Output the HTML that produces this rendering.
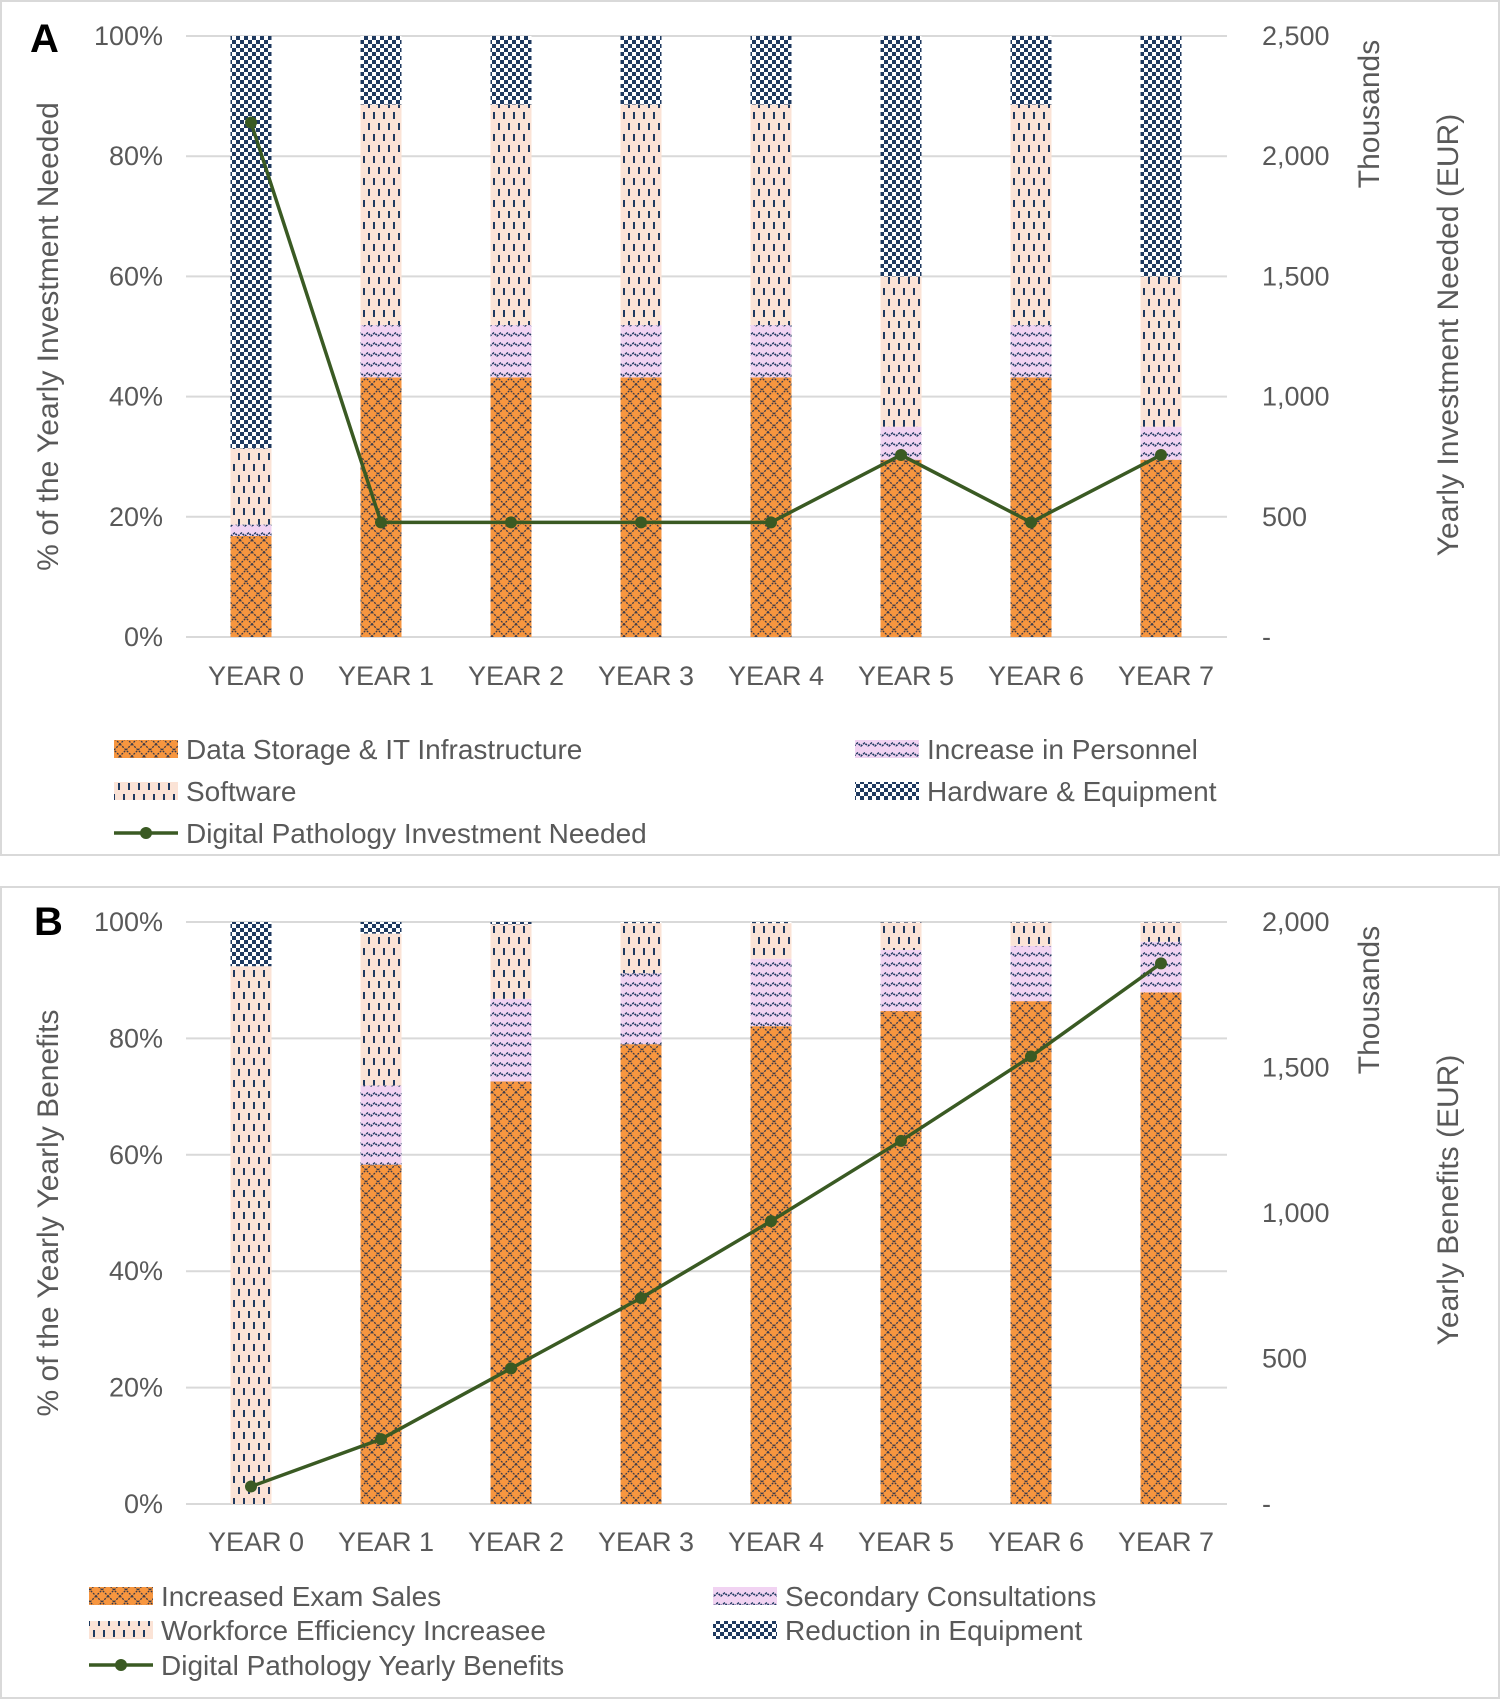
<!DOCTYPE html>
<html><head><meta charset="utf-8">
<style>
html,body{margin:0;padding:0;background:#fff;}
svg{display:block;font-family:"Liberation Sans",Arial,sans-serif;}
text{fill:#595959;}
</style></head>
<body>
<svg id="s" width="1500" height="1700" viewBox="0 0 1500 1700" xmlns="http://www.w3.org/2000/svg">
<defs>
<pattern id="pCross" width="12" height="12" patternUnits="userSpaceOnUse">
<rect width="12" height="12" fill="#f7963f"/>
<path d="M0,0L12,12M12,0L0,12" stroke="#3a3a4a" stroke-width="1.3" stroke-dasharray="2,1.2"/>
</pattern>
<pattern id="pSoft" width="10" height="22" patternUnits="userSpaceOnUse">
<rect width="10" height="22" fill="#fbe3d6"/>
<rect x="3" y="2" width="2" height="7" fill="#1f3a60"/>
<rect x="8" y="13" width="2" height="7" fill="#1f3a60"/>
</pattern>
<pattern id="pWave" width="14" height="10" patternUnits="userSpaceOnUse">
<rect width="14" height="10" fill="#f1d3f2"/>
<path d="M0,6 L3.5,3 L7,6 L10.5,3 L14,6" fill="none" stroke="#1f3a60" stroke-width="1.6" stroke-dasharray="2,1"/>
</pattern>
<pattern id="pCheck" width="8" height="8" patternUnits="userSpaceOnUse">
<rect width="8" height="8" fill="#fff"/>
<rect width="4" height="4" fill="#1f3a60"/>
<rect x="4" y="4" width="4" height="4" fill="#1f3a60"/>
</pattern>
</defs>
<rect x="1" y="1" width="1498" height="854" fill="none" stroke="#d9d9d9" stroke-width="2"/>
<rect x="1" y="887" width="1498" height="811" fill="none" stroke="#d9d9d9" stroke-width="2"/>
<text x="30" y="52" font-size="40" font-weight="bold" style="fill:#000">A</text>
<text x="34" y="935" font-size="40" font-weight="bold" style="fill:#000">B</text>
<g id="gA"></g><g id="gB"></g>
</svg>
<script>
const years = ["YEAR 0","YEAR 1","YEAR 2","YEAR 3","YEAR 4","YEAR 5","YEAR 6","YEAR 7"];
// Panel A stacked percentages
const aData = [16.8,43.2,43.2,43.2,43.2,29.5,43.2,29.5];
const aPersonnel = [1.9,8.7,8.7,8.7,8.7,5.5,8.7,5.5];
const aSoftware = [12.7,36.7,36.7,36.7,36.7,25,36.7,25];
const aHardware = [68.6,11.4,11.4,11.4,11.4,40,11.4,40];
const aLine = [2140,477,477,477,477,757,477,757];
const aRightTicks = ["-","500","1,000","1,500","2,000","2,500"];
// Panel B stacked percentages
const bExam = [0,58.3,72.6,79,82.1,84.7,86.4,87.9];
const bSecondary = [0,13.6,14.2,12.2,11.6,10.5,9.5,8.7];
const bWorkforce = [92.4,26.1,12.8,8.6,6.1,4.7,4.0,3.3];
const bReduction = [7.6,2.0,0.4,0.2,0.2,0.1,0.1,0.1];
const bLine = [60,223,466,708,972,1248,1538,1858];
const bRightTicks = ["-","500","1,000","1,500","2,000"];
const pctTicks = ["0%","20%","40%","60%","80%","100%"];

const NS="http://www.w3.org/2000/svg";
function mk(parent,tag,attrs,txt){const e=document.createElementNS(NS,tag);for(const k in attrs)e.setAttribute(k,attrs[k]);if(txt!==undefined)e.textContent=txt;parent.appendChild(e);return e;}

function draw(g,cfg){
  const L=186,R=1227,T=cfg.top,B=cfg.bottom,step=130,x0=251,bw=41;
  const yP=v=>B-(v/100)*(B-T);
  const yR=v=>B-(v/cfg.rmax)*(B-T);
  const xC=i=>x0+i*step;
  pctTicks.forEach((t,i)=>{
    const y=B-i*(B-T)/(pctTicks.length-1);
    const gl=mk(g,'line',{x1:L,x2:R,y1:y,y2:y,stroke:'#d9d9d9','stroke-width':2});
    
    
    const tl=mk(g,'text',{x:163,y:y+9,'font-size':27,'text-anchor':'end'},t);
    
    
  });
  cfg.rticks.forEach((t,i)=>{
    const y=B-i*(B-T)/(cfg.rticks.length-1);
    const tl=mk(g,'text',{x:1262,y:y+9,'font-size':27},t);
    
    
  });
  years.forEach((yl,i)=>{
    const tl=mk(g,'text',{x:xC(i)+5,y:cfg.xlab,'font-size':27,'text-anchor':'middle'},yl);
    
    
    let acc=0;
    cfg.series.forEach(s=>{
      const v=s.vals[i];
      if(v>0){
        const r=mk(g,'rect',{x:xC(i)-bw/2,y:yP(acc+v),width:bw,height:yP(acc)-yP(acc+v),fill:'url(#'+s.pat+')'});
        
        
      }
      acc+=v;
    });
  });
  const pts=cfg.line.map((v,i)=>xC(i)+','+yR(v)).join(' ');
  const pl=mk(g,'polyline',{points:pts,fill:'none',stroke:'#3a5a23','stroke-width':3.5});
  
  
  cfg.line.forEach((v,i)=>{
    const c=mk(g,'circle',{cx:xC(i),cy:yR(v),r:6,fill:'#3a5a23'});
    
    
  });
  const mid=(T+B)/2;
  const lt=mk(g,'text',{x:0,y:0,'font-size':30,'text-anchor':'middle',transform:`translate(58,${mid}) rotate(-90)`},cfg.ltitle);
  
  
  const th=mk(g,'text',{x:0,y:0,'font-size':30,'text-anchor':'middle',transform:`translate(1379,${T+(cfg.thY)}) rotate(-90)`},'Thousands');
  
  
  const rt=mk(g,'text',{x:0,y:0,'font-size':30,'text-anchor':'middle',transform:`translate(1458,${cfg.rtY}) rotate(-90)`},cfg.rtitle);
  
  
  cfg.legend.forEach(l=>{
    if(l.pat){
      const sw=mk(g,'rect',{x:l.x,y:l.y-9,width:64,height:18,fill:'url(#'+l.pat+')'});
      
      
    }else{
      const ln=mk(g,'line',{x1:l.x,x2:l.x+64,y1:l.y,y2:l.y,stroke:'#3a5a23','stroke-width':3.5});
      
      
      const c=mk(g,'circle',{cx:l.x+32,cy:l.y,r:6,fill:'#3a5a23'});
      
      
    }
    const t=mk(g,'text',{x:l.x+72,y:l.y+10,'font-size':28},l.t);
    
    
  });
}
draw(document.getElementById('gA'),{top:36,bottom:637,xlab:685,rmax:2500,rticks:aRightTicks,line:aLine,
  thY:78,rtY:335,
  ltitle:'% of the Yearly Investment Needed',rtitle:'Yearly Investment Needed (EUR)',
  series:[{key:'data-storage',vals:aData,pat:'pCross'},{key:'personnel',vals:aPersonnel,pat:'pWave'},{key:'software',vals:aSoftware,pat:'pSoft'},{key:'hardware',vals:aHardware,pat:'pCheck'}],
  legend:[{x:114,y:749,pat:'pCross',t:'Data Storage & IT Infrastructure'},{x:855,y:749,pat:'pWave',t:'Increase in Personnel'},
          {x:114,y:791,pat:'pSoft',t:'Software'},{x:855,y:791,pat:'pCheck',t:'Hardware & Equipment'},
          {x:114,y:833,t:'Digital Pathology Investment Needed'}]});
draw(document.getElementById('gB'),{top:922,bottom:1504,xlab:1551,rmax:2000,rticks:bRightTicks,line:bLine,
  thY:78,rtY:1200,
  ltitle:'% of the Yearly Yearly Benefits',rtitle:'Yearly Benefits (EUR)',
  series:[{key:'exam-sales',vals:bExam,pat:'pCross'},{key:'secondary',vals:bSecondary,pat:'pWave'},{key:'workforce',vals:bWorkforce,pat:'pSoft'},{key:'reduction',vals:bReduction,pat:'pCheck'}],
  legend:[{x:89,y:1596,pat:'pCross',t:'Increased Exam Sales'},{x:713,y:1596,pat:'pWave',t:'Secondary Consultations'},
          {x:89,y:1630,pat:'pSoft',t:'Workforce Efficiency Increasee'},{x:713,y:1630,pat:'pCheck',t:'Reduction in Equipment'},
          {x:89,y:1665,t:'Digital Pathology Yearly Benefits'}]});
</script>
</body></html>
